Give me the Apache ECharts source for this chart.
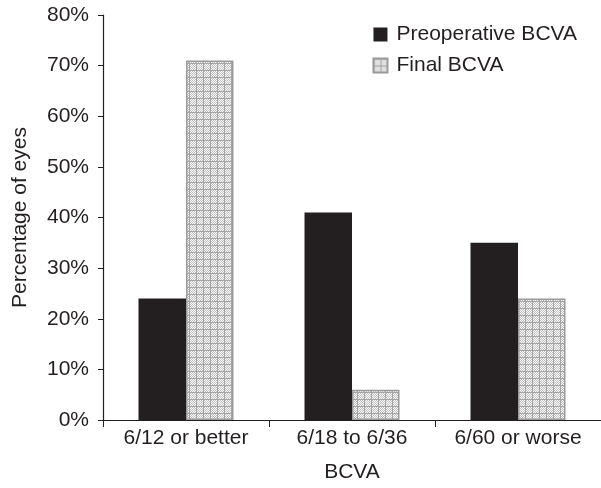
<!DOCTYPE html>
<html><head><meta charset="utf-8">
<script src="https://cdn.jsdelivr.net/npm/echarts@6/dist/echarts.min.js"></script>
<style>html,body{margin:0;padding:0;background:#fff}#c{width:601px;height:488px}</style>
</head><body><div id="c"></div>
<script>
var categories = ['6/12 or better', '6/18 to 6/36', '6/60 or worse'];
var preoperative = [24, 41, 35];
var finalBcva = [71, 6, 24];
var yTicks = [0, 10, 20, 30, 40, 50, 60, 70, 80];

function makePattern() {
  var c = document.createElement('canvas');
  c.width = 7; c.height = 7;
  var ctx = c.getContext('2d');
  ctx.fillStyle = '#ffffff';
  ctx.fillRect(0, 0, 7, 7);
  ctx.fillStyle = '#c0c0c0';
  for (var y = 0; y < 7; y++) for (var x = 0; x < 7; x++) if ((x + y) % 2 === 0) ctx.fillRect(x, y, 1, 1);
  ctx.fillStyle = '#a4a4a4';
  ctx.fillRect(0, 0, 7, 1);
  ctx.fillRect(0, 0, 1, 7);
  return c;
}
var pat = makePattern();
var txt = '#231f20';
var font = 'Liberation Sans, Arial, sans-serif';
var fs = 21;
var chart = echarts.init(document.getElementById('c'));
chart.setOption({
  animation: false,
  backgroundColor: '#fff',
  grid: {left: 103, top: 15, right: 0, bottom: 66, containLabel: false},
  legend: {
    right: 19, top: 19, orient: 'vertical', itemWidth: 14, itemHeight: 14, itemGap: 10,
    textStyle: {fontSize: fs, color: txt, fontFamily: font, padding: [0, 0, 0, 4]},
    data: [{name: 'Preoperative BCVA', icon: 'rect'}, {name: 'Final BCVA', icon: 'rect'}]
  },
  xAxis: {
    type: 'category', data: categories,
    name: 'BCVA', nameLocation: 'middle', nameGap: 42,
    nameTextStyle: {fontSize: fs, color: txt, fontFamily: font},
    axisLine: {lineStyle: {color: '#231f20', width: 1.2}},
    axisTick: {show: true, length: 7, lineStyle: {color: '#231f20'}},
    axisLabel: {fontSize: fs, color: txt, fontFamily: font, margin: 8}
  },
  yAxis: {
    type: 'value', min: 0, max: 80, interval: 10,
    name: 'Percentage of eyes', nameLocation: 'middle', nameGap: 72,
    nameTextStyle: {fontSize: fs, color: txt, fontFamily: font},
    axisLine: {show: true, lineStyle: {color: '#231f20', width: 1.2}},
    axisTick: {show: true, length: 5, lineStyle: {color: '#231f20'}},
    splitLine: {show: false},
    axisLabel: {fontSize: fs, color: txt, fontFamily: font, margin: 14,
      formatter: function (v) { return yTicks.indexOf(v) >= 0 ? v + '%' : ''; }}
  },
  series: [
    {name: 'Preoperative BCVA', type: 'bar', data: preoperative, barWidth: 47.5, barGap: '0%',
      itemStyle: {color: '#231f20'}},
    {name: 'Final BCVA', type: 'bar', data: finalBcva, barWidth: 47.5,
      itemStyle: {color: {image: pat, repeat: 'repeat'}, borderColor: '#9a9a9a', borderWidth: 1.5}}
  ]
});
</script></body></html>
